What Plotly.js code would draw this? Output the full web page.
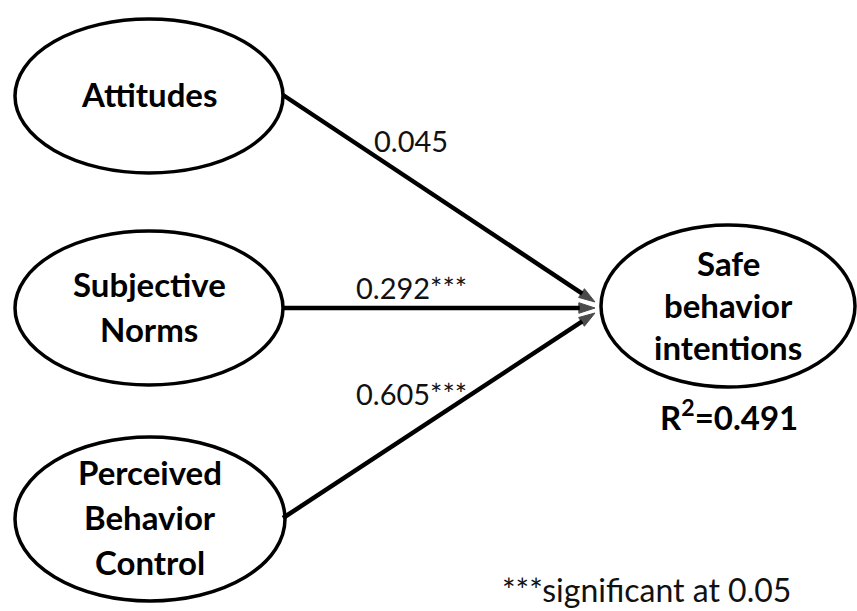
<!DOCTYPE html>
<html><head><meta charset="utf-8">
<script src="https://cdn.plot.ly/plotly-3.0.1.min.js"></script>
<style>html,body{margin:0;padding:0;background:#fff}#chart{width:857px;height:611px}</style>
</head><body><div id="chart"></div>
<script>
// Data
const predictors = ["Attitudes", "Subjective Norms", "Perceived Behavior Control"];
const outcome = "Safe behavior intentions";
const coefficients = ["0.045", "0.292***", "0.605***"];
const rSquared = "0.491";
const footnote = "***significant at 0.05";

// Layout geometry (pixels in a 857x611 coordinate space)
const predLines = [["Attitudes"], ["Subjective", "Norms"], ["Perceived", "Behavior", "Control"]];
const outLines = ["Safe", "behavior", "intentions"];
const predBox = [
  {cx: 149, cy: 96, rx: 134, ry: 77},
  {cx: 149, cy: 308, rx: 134, ry: 77},
  {cx: 150, cy: 519, rx: 135, ry: 82}
];
const outBox = {cx: 728, cy: 306, rx: 127, ry: 81};
const lineStart = [[283, 95], [283, 308], [283, 518]];
const lineEnd = [[595, 302], [595, 308], [595, 313]];
const coefPos = [[411, 140], [411, 287], [411, 393]];

const shapes = [];
const annotations = [];
const traces = [];
const black = "#000";
const fam = "Lato, 'Open Sans', sans-serif";
const boldFont = {family: fam, size: 33, color: black, weight: 700};
const regFont = {family: fam, size: 29, color: "#111"};

function ellipse(b) {
  shapes.push({type: "circle", xref: "x", yref: "y",
    x0: b.cx - b.rx, x1: b.cx + b.rx, y0: b.cy - b.ry, y1: b.cy + b.ry,
    line: {color: black, width: 3.5}, fillcolor: "rgba(0,0,0,0)"});
}
function textLines(lines, cx, cy, spacing, font) {
  const n = lines.length;
  lines.forEach((t, i) => {
    annotations.push({x: cx, y: cy + (i - (n - 1) / 2) * spacing, xref: "x", yref: "y",
      text: "<b>" + t + "</b>", showarrow: false, font: font, xanchor: "center", yanchor: "middle"});
  });
}

predictors.forEach((p, i) => {
  ellipse(predBox[i]);
  textLines(predLines[i], predBox[i].cx, predBox[i].cy - 2, 45, boldFont);
  traces.push({type: "scatter", mode: "lines+markers", name: p + " → " + outcome,
    x: [lineStart[i][0], lineEnd[i][0]], y: [lineStart[i][1], lineEnd[i][1]],
    line: {color: black, width: 4.5},
    marker: {symbol: ["circle", "arrow"], size: [0, 17], angleref: "previous",
             color: black, line: {width: 1, color: black}},
    hoverinfo: "skip"});
  annotations.push({x: coefPos[i][0], y: coefPos[i][1], xref: "x", yref: "y", text: coefficients[i],
    showarrow: false, font: regFont, xanchor: "center", yanchor: "middle"});
});
ellipse(outBox);
textLines(outLines, outBox.cx, outBox.cy - 1, 42, boldFont);
annotations.push({x: 729, y: 415, xref: "x", yref: "y", text: "<b>R<sup>2</sup>=" + rSquared + "</b>",
  showarrow: false, font: boldFont, xanchor: "center", yanchor: "middle"});
annotations.push({x: 646, y: 589, xref: "x", yref: "y", text: footnote,
  showarrow: false, font: {family: fam, size: 32, color: "#111"}, xanchor: "center", yanchor: "middle"});

Plotly.newPlot("chart", traces, {
  width: 857, height: 611, margin: {l: 0, r: 0, t: 0, b: 0},
  paper_bgcolor: "#fff", plot_bgcolor: "#fff", showlegend: false,
  xaxis: {range: [0, 857], visible: false, fixedrange: true},
  yaxis: {range: [611, 0], visible: false, fixedrange: true},
  shapes: shapes, annotations: annotations
}, {displayModeBar: false, staticPlot: true});
</script></body></html>
